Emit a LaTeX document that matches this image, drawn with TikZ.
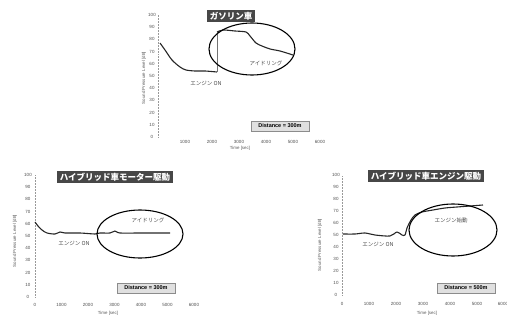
\documentclass[tikz,border=0pt]{standalone}
\usepackage{fontspec}
\setmainfont{Liberation Sans}
\newfontfamily\jp{Noto Sans CJK JP}

\tikzstyle{titre} = [rectangle, fill=black!72, text=white, font=\jp\bfseries\fontsize{8.5}{8.5}\selectfont, inner xsep=3pt, inner ysep=1pt, minimum height=12pt, text centered]
\tikzstyle{cadredist} = [rectangle, draw=black!45, fill=black!12, font=\bfseries\fontsize{5.5}{5.5}\selectfont, inner sep=1.5pt, minimum height=10pt, minimum width=58pt, text centered]
\tikzstyle{grad} = [font=\fontsize{4.5}{4.5}\selectfont, text=black!70, inner sep=0pt]
\tikzstyle{titreaxe} = [font=\fontsize{4.4}{4.4}\selectfont, text=black!65, inner sep=0pt]
\tikzstyle{legende} = [font=\jp\fontsize{5.5}{5.5}\selectfont, text=black!70, inner sep=0pt]
\tikzstyle{courbe} = [line width=1.1pt, black!85, line join=round]
\tikzstyle{cercle} = [line width=1.1pt, black]
\tikzstyle{axe} = [black!40, densely dotted, line width=0.5pt]

\begin{document}
\begin{tikzpicture}[x=1pt, y=-1pt]

    \useasboundingbox (0,0) rectangle (507,324);

    %  ガソリン車
    \node[titre] (TA) at (231,16) {ガソリン車};
    \draw[axe] (158,137) -- (158,15);
    \node[grad] (A0) at (152,137) {0};
    \node[grad] (A10) at (152,124.8) {10};
    \node[grad] (A20) at (152,112.6) {20};
    \node[grad] (A30) at (152,100.4) {30};
    \node[grad] (A40) at (152,88.2) {40};
    \node[grad] (A50) at (152,76) {50};
    \node[grad] (A60) at (152,63.8) {60};
    \node[grad] (A70) at (152,51.6) {70};
    \node[grad] (A80) at (152,39.4) {80};
    \node[grad] (A90) at (152,27.2) {90};
    \node[grad] (A100) at (152,15) {100};
    \node[grad] (AX1) at (185,142) {1000};
    \node[grad] (AX2) at (212,142) {2000};
    \node[grad] (AX3) at (239,142) {3000};
    \node[grad] (AX4) at (266,142) {4000};
    \node[grad] (AX5) at (293,142) {5000};
    \node[grad] (AX6) at (320,142) {6000};
    \node[titreaxe, rotate=90] (AY) at (144,78) {Sound Pressure Level [dB]};
    \node[titreaxe] (AT) at (240,148) {Time [sec]};

    \draw[courbe] plot[smooth] coordinates {(160,43) (165,50) (172,60) (180,67) (186,70) (195,71) (205,71) (217,72)};
    \draw[black!55, line width=0.5pt] (217,72) -- (217,32);
    \draw[courbe] plot[smooth] coordinates {(217,32) (223,30) (235,31) (246,32) (250,36) (256,43) (262,46) (270,49) (280,51) (293,55)};
    \draw[cercle] (252,49) ellipse [x radius=43, y radius=26];
    \node[legende] (AI) at (266,63) {アイドリング};
    \node[legende] (AE) at (206,83) {エンジン ON};
    \node[cadredist] (AD) at (280,126) {Distance = 300m};

    %-----------------------------------------------
    %  ハイブリッド車モーター駆動
    \node[titre] (TB) at (115,177) {ハイブリッド車モーター駆動};
    \draw[axe] (35,297) -- (35,175);
    \node[grad] (B0) at (28,297) {0};
    \node[grad] (B10) at (28,284.8) {10};
    \node[grad] (B20) at (28,272.6) {20};
    \node[grad] (B30) at (28,260.4) {30};
    \node[grad] (B40) at (28,248.2) {40};
    \node[grad] (B50) at (28,236) {50};
    \node[grad] (B60) at (28,223.8) {60};
    \node[grad] (B70) at (28,211.6) {70};
    \node[grad] (B80) at (28,199.4) {80};
    \node[grad] (B90) at (28,187.2) {90};
    \node[grad] (B100) at (28,175) {100};
    \node[grad] (BX0) at (35,305) {0};
    \node[grad] (BX1) at (61.5,305) {1000};
    \node[grad] (BX2) at (88,305) {2000};
    \node[grad] (BX3) at (114.5,305) {3000};
    \node[grad] (BX4) at (141,305) {4000};
    \node[grad] (BX5) at (167.5,305) {5000};
    \node[grad] (BX6) at (194,305) {6000};
    \node[titreaxe, rotate=90] (BY) at (15,241) {Sound Pressure Level [dB]};
    \node[titreaxe] (BT) at (108,313) {Time [sec]};

    \draw[courbe] plot[smooth] coordinates {(35,222) (38,226) (42,230) (47,233) (55,234) (60,232) (65,233) (80,233) (95,234) (100,233) (110,233) (115,231) (120,233) (140,233) (170,233)};
    \draw[cercle] (140,234) ellipse [x radius=43, y radius=24];
    \node[legende] (BI) at (148,220) {アイドリング};
    \node[legende] (BE) at (74,243) {エンジン ON};
    \node[cadredist] (BD) at (146,288) {Distance = 300m};

    %-----------------------------------------------
    %  ハイブリッド車エンジン駆動
    \node[titre] (TC) at (426,176) {ハイブリッド車エンジン駆動};
    \draw[axe] (342,295) -- (342,175);
    \node[grad] (C0) at (336,295) {0};
    \node[grad] (C10) at (336,283) {10};
    \node[grad] (C20) at (336,271) {20};
    \node[grad] (C30) at (336,259) {30};
    \node[grad] (C40) at (336,247) {40};
    \node[grad] (C50) at (336,235) {50};
    \node[grad] (C60) at (336,223) {60};
    \node[grad] (C70) at (336,211) {70};
    \node[grad] (C80) at (336,199) {80};
    \node[grad] (C90) at (336,187) {90};
    \node[grad] (C100) at (336,175) {100};
    \node[grad] (CX0) at (342,304) {0};
    \node[grad] (CX1) at (369,304) {1000};
    \node[grad] (CX2) at (396,304) {2000};
    \node[grad] (CX3) at (423,304) {3000};
    \node[grad] (CX4) at (450,304) {4000};
    \node[grad] (CX5) at (477,304) {5000};
    \node[grad] (CX6) at (503,304) {6000};
    \node[titreaxe, rotate=90] (CY) at (320,245) {Sound Pressure Level [dB]};
    \node[titreaxe] (CT) at (427,313) {Time [sec]};

    \draw[courbe] plot[smooth] coordinates {(343,234) (355,234) (365,233) (375,235) (390,236) (397,232) (402,235) (405,235) (407,228) (411,220) (415,215) (422,212) (433,210) (445,208) (457,207) (470,206) (483,205)};
    \draw[cercle] (453,230) ellipse [x radius=44, y radius=26];
    \node[legende] (CI) at (451,220) {エンジン始動};
    \node[legende] (CE) at (378,244) {エンジン ON};
    \node[cadredist] (CD) at (466,288) {Distance = 500m};

\end{tikzpicture}
\end{document}
